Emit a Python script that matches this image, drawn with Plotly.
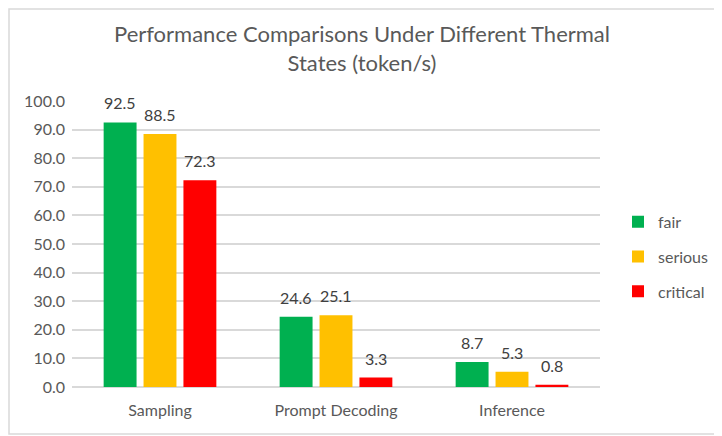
import plotly.graph_objects as go

# chart values
categories = ["Sampling", "Prompt Decoding", "Inference"]
fair = [92.5, 24.6, 8.7]
serious = [88.5, 25.1, 5.3]
critical = [72.3, 3.3, 0.8]

series = [("fair", fair, "#00B050"),
          ("serious", serious, "#FFC000"),
          ("critical", critical, "#FF0000")]

# page has an 8px body margin, so margins are set with that in mind
W, H = 722, 436
L, R, T, B = 64, 130, 93, 57
pw, ph = W - L - R, H - T - B
BARGAP, GROUPGAP = 0.32, 0.175
slot = pw / len(categories) * (1 - BARGAP) / len(series)

fig = go.Figure()
for i, (name, vals, color) in enumerate(series):
    fig.add_trace(go.Bar(
        x=categories, y=vals, name=name, legendgroup=name,
        marker=dict(color=color, line=dict(width=0)),
    ))
    # value labels sit a bit higher above the bars, like Excel does
    for cat, v in zip(categories, vals):
        fig.add_annotation(x=cat, y=v, text=f"{v:.1f}", showarrow=False,
                           xshift=(i - 1) * slot, yanchor="bottom", yshift=8,
                           font=dict(size=16, color="#404040"))

# light border around the chart
fig.add_shape(type="rect", xref="paper", yref="paper",
              x0=-(L - 1) / pw, x1=1 + (R - 10) / pw,
              y0=-(B - 10) / ph, y1=1 + (T - 1) / ph,
              line=dict(color="#D9D9D9", width=1.5))

fig.update_layout(
    width=W, height=H,
    margin=dict(l=L, r=R, t=T, b=B),
    paper_bgcolor="white", plot_bgcolor="white",
    font=dict(family="Lato", color="#595959", size=16),
    title=dict(text="Performance Comparisons Under Different Thermal<br>States (token/s)",
               x=(L + pw / 2 + 26) / W, xanchor="center",
               y=1 - 34 / H, yanchor="top",
               font=dict(size=22, color="#595959")),
    barmode="group", bargap=BARGAP, bargroupgap=GROUPGAP,
    showlegend=True,
    legend=dict(x=1 + 18 / pw, xanchor="left", y=0.455, yanchor="middle",
                tracegroupgap=11, font=dict(size=16, color="#595959"),
                bgcolor="rgba(0,0,0,0)"),
    xaxis=dict(showgrid=False, showline=False, ticks="",
               ticklabelstandoff=12,
               tickfont=dict(size=16, color="#595959")),
    yaxis=dict(range=[0, 100], dtick=10, tickformat=".1f",
               showgrid=True, gridcolor="#D9D9D9", gridwidth=1.5,
               zeroline=True, zerolinecolor="#D9D9D9", zerolinewidth=1.5,
               showline=False, ticks="", ticklen=0, ticklabelstandoff=6,
               tickfont=dict(size=16, color="#595959")),
)

fig.write_html("out.html")
